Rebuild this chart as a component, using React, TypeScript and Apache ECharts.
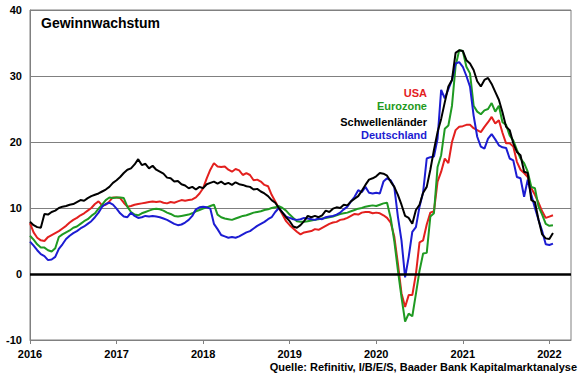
import React, { useEffect, useRef } from "react";
import * as echarts from "echarts";

// semi-monthly observations, starting January 2016
const startYear = 2016;
const stepsPerYear = 24;

const yearTicks = [2016, 2017, 2018, 2019, 2020, 2021, 2022];

const usa = [
  7.7, 6.3, 5.5, 5.1, 5.0, 5.6, 5.9, 6.2, 6.5, 6.9, 7.3, 7.8, 8.2, 8.5, 8.9, 9.2, 9.6, 10.0, 10.6, 11.0, 10.4, 10.5, 11.0, 11.6,
  11.6, 11.5, 10.8, 10.2, 10.3, 10.5, 10.6, 10.7, 10.8, 10.9, 11.0, 10.9, 11.0, 10.8, 10.7, 10.9, 10.8, 11.0, 11.2, 11.1, 11.2, 11.3, 11.6, 12.2,
  13.0, 14.5, 15.8, 16.8, 16.3, 16.2, 16.3, 15.8, 15.5, 15.9, 15.7, 15.0, 15.3, 15.0, 14.2, 14.3, 14.0, 13.5, 13.3, 12.0, 11.0, 10.0, 9.0, 8.0,
  7.4, 6.9, 6.4, 6.0, 6.3, 6.4, 6.5, 6.8, 6.7, 7.0, 7.3, 7.6, 7.8, 7.9, 8.2, 8.3, 8.5, 8.8, 9.1, 9.0, 9.3, 9.4, 9.4, 9.2,
  9.3, 9.2, 8.9, 8.5, 7.8, 5.7, 1.6, -2.9, -5.0, -3.2, -3.2, 0.0, 4.8, 5.1, 7.5, 9.3, 9.5, 14.0, 15.5, 17.5, 16.8, 20.0, 21.8, 22.3,
  22.4, 22.6, 22.6, 22.1, 21.8, 21.5, 22.3, 23.0, 23.8, 22.8, 23.3, 21.4, 19.8, 19.8, 19.3, 17.0, 15.8, 15.3, 14.7, 13.0, 12.0, 10.8, 9.5, 8.5,
  8.7, 8.9,
];

const eurozone = [
  5.8, 5.2, 4.5, 4.0, 4.0, 3.6, 3.4, 3.9, 5.6, 6.0, 6.3, 6.6, 7.0, 7.2, 7.6, 8.0, 8.3, 8.8, 9.2, 9.9, 10.5, 11.2, 11.6, 11.5,
  11.6, 11.6, 11.5, 10.2, 9.4, 9.0, 8.9, 9.2, 9.4, 9.6, 9.8, 9.9, 9.8, 9.6, 9.3, 9.1, 8.8, 8.7, 8.8, 8.9, 9.0, 9.2, 9.5, 9.7,
  9.9, 10.1, 10.3, 10.5, 9.0, 8.6, 8.4, 8.3, 8.2, 8.4, 8.6, 8.8, 8.9, 9.1, 9.3, 9.4, 9.5, 9.7, 9.8, 10.0, 10.1, 10.3, 10.0, 9.6,
  9.0, 8.5, 8.0, 7.9, 7.9, 8.0, 8.1, 8.2, 8.3, 8.4, 8.5, 8.6, 8.7, 8.9, 9.1, 9.2, 9.3, 9.5, 9.7, 9.9, 10.0, 10.2, 10.3, 10.4,
  10.3, 10.5, 10.7, 10.8, 8.5, 5.0, 0.6, -3.5, -7.2, -6.0, -6.4, -3.0, 0.5, 3.1, 3.2, 8.7, 9.2, 16.2, 18.0, 22.0, 22.5, 25.5, 31.5, 33.9,
  33.8, 31.4, 30.4, 25.5, 24.6, 24.2, 24.8, 25.0, 25.9, 24.6, 25.5, 23.0, 22.6, 21.0, 20.2, 18.8, 17.5, 16.8, 15.5, 13.2, 13.0, 10.2, 9.0, 7.6,
  7.3, 7.4,
];

const schwellenlaender = [
  7.9, 7.4, 7.1, 7.0, 9.1, 9.0, 9.4, 9.6, 10.0, 10.2, 10.3, 10.5, 10.6, 10.9, 11.2, 11.1, 11.5, 11.8, 12.0, 12.2, 12.5, 12.8, 13.2, 13.8,
  14.2, 14.7, 15.3, 15.8, 16.0, 16.6, 17.4, 16.5, 16.7, 16.0, 16.4, 15.8, 15.5, 15.2, 14.6, 14.5, 14.0, 14.1, 13.6, 13.4, 13.0, 13.2, 12.8, 13.2,
  13.0, 13.6, 13.8, 14.0, 13.7, 14.0, 13.6, 13.8, 13.5, 13.9, 13.6, 13.5, 13.3, 13.2, 12.8, 12.9, 12.5, 12.2, 11.8, 11.2, 10.8, 10.0, 9.3, 8.6,
  8.0, 7.2, 7.0, 7.4, 8.0, 8.8, 8.6, 8.8, 8.6, 8.9, 9.6, 9.4, 9.9, 10.1, 10.0, 10.5, 10.4, 11.0, 11.4, 11.8, 12.6, 13.5, 14.3, 14.5,
  14.8, 15.3, 15.2, 14.9, 14.0, 13.2, 12.0, 10.5, 8.8, 8.5, 7.6, 9.7, 10.5, 12.3, 13.2, 15.8, 18.8, 21.5, 23.5, 26.0, 28.4, 29.4, 33.5, 33.9,
  33.8, 32.4, 31.9, 30.9, 29.2, 28.4, 29.4, 29.7, 28.8, 27.6, 26.4, 24.5, 22.3, 21.8, 19.8, 18.5, 18.0, 15.5, 15.3, 11.2, 10.9, 8.2, 6.0, 5.4,
  5.3, 6.2,
];

const deutschland = [
  4.9, 4.3, 3.6, 3.0, 2.7, 2.1, 2.2, 2.6, 3.8, 4.5, 5.3, 5.8, 6.2, 6.5, 6.9, 7.2, 7.6, 8.0, 8.6, 9.3, 10.2, 10.6, 10.8, 10.5,
  9.9, 9.2, 8.7, 8.6, 9.3, 8.8, 8.5, 8.6, 8.8, 8.7, 8.8, 8.7, 8.6, 8.4, 8.2, 7.9, 7.6, 7.4, 7.5, 7.8, 8.2, 8.8, 9.8, 10.1,
  10.2, 10.1, 9.9, 7.6, 6.8, 5.9, 5.7, 5.5, 5.6, 5.5, 5.7, 6.0, 6.3, 6.5, 6.9, 7.3, 7.6, 7.9, 8.3, 8.6, 9.4, 10.0, 9.3, 8.7,
  8.5, 8.3, 8.2, 8.3, 8.5, 8.4, 8.3, 8.2, 8.4, 8.3, 8.6, 8.7, 8.8, 9.0, 9.3, 9.8, 10.2, 11.0, 11.7, 12.7, 12.4, 13.2, 12.3, 12.2,
  12.3, 12.2, 14.0, 14.5, 14.2, 13.2, 8.7, 5.1, -0.5, 2.6, 6.4, 7.1, 10.2, 12.4, 17.5, 17.7, 17.8, 20.5, 27.9, 26.6, 28.0, 29.4, 31.9, 32.1,
  31.4, 30.0, 28.4, 24.0, 20.8, 19.3, 19.0, 20.5, 21.2, 20.4, 19.5, 19.2, 19.1, 17.5, 17.2, 14.7, 14.5, 11.7, 14.3, 12.0, 10.0, 8.2, 6.5, 4.5,
  4.4, 4.6,
];

const seriesNames = ["USA", "Eurozone", "Schwellenländer", "Deutschland"];
const seriesColors = ["#e3201e", "#1f9a22", "#000000", "#1c1cd2"];

const titleText = "Gewinnwachstum";
const sourceText = "Quelle: Refinitiv, I/B/E/S, Baader Bank Kapitalmarktanalyse";

const FONT = "'Liberation Sans', Arial, sans-serif";

function toPairs(values: number[]) {
  return values.map((v, i) => [startYear + i / stepsPerYear, v]);
}

export default function App() {
  const ref = useRef<HTMLDivElement>(null);

  useEffect(() => {
    if (!ref.current) return;
    const chart = echarts.init(ref.current, null, { renderer: "svg" });

    const lineSeries = (name: string, values: number[], color: string, extra: any = {}) => ({
      name,
      type: "line",
      data: toPairs(values),
      showSymbol: false,
      symbol: "none",
      lineStyle: { color, width: 2 },
      itemStyle: { color },
      ...extra,
    });

    const legendYs = [93, 106, 122, 135];

    chart.setOption({
      animation: false,
      grid: {
        left: 30,
        top: 10,
        right: 9,
        bottom: 35,
        show: true,
        borderColor: "#808080",
        borderWidth: 1,
        backgroundColor: "transparent",
      },
      xAxis: {
        type: "value",
        min: 2016,
        max: 2022.25,
        interval: 1,
        axisLine: { show: true, onZero: false, lineStyle: { color: "#808080", width: 1 } },
        axisTick: { show: true, length: 4, customValues: yearTicks, lineStyle: { color: "#808080" } },
        axisLabel: {
          customValues: yearTicks,
          formatter: (v: number) => String(Math.round(v)),
          color: "#000",
          fontFamily: FONT,
          fontWeight: "bold",
          fontSize: 11,
          margin: 8,
        },
        splitLine: { show: false },
      },
      yAxis: {
        type: "value",
        min: -10,
        max: 40,
        interval: 10,
        axisLine: { show: true, lineStyle: { color: "#808080", width: 1 } },
        axisTick: { show: false },
        axisLabel: {
          color: "#000",
          fontFamily: FONT,
          fontWeight: "bold",
          fontSize: 11,
          margin: 8,
        },
        splitLine: { show: true, lineStyle: { color: "#808080", width: 1 } },
      },
      series: [
        lineSeries(seriesNames[0], usa, seriesColors[0], {
          markLine: {
            silent: true,
            symbol: "none",
            label: { show: false },
            lineStyle: { color: "#000", width: 2.5, type: "solid" },
            data: [{ yAxis: 0 }],
          },
        }),
        lineSeries(seriesNames[1], eurozone, seriesColors[1]),
        lineSeries(seriesNames[3], deutschland, seriesColors[3]),
        lineSeries(seriesNames[2], schwellenlaender, seriesColors[2]),
      ],
      graphic: [
        {
          type: "text",
          x: 41,
          y: 23,
          style: {
            text: titleText,
            font: `bold 14px ${FONT}`,
            fill: "#000",
            textVerticalAlign: "middle",
          },
        },
        ...seriesNames.map((n, i) => ({
          type: "text",
          x: 427,
          y: legendYs[i],
          style: {
            text: n,
            font: `bold 11px ${FONT}`,
            fill: seriesColors[i],
            textAlign: "right",
            textVerticalAlign: "middle",
          },
        })),
        {
          type: "text",
          x: 577,
          y: 367,
          style: {
            text: sourceText,
            font: `bold 11px ${FONT}`,
            fill: "#000",
            textAlign: "right",
            textVerticalAlign: "middle",
          },
        },
      ],
    });

    return () => chart.dispose();
  }, []);

  return (
    <div
      ref={ref}
      style={{ position: "absolute", left: 0, top: 0, width: 580, height: 375 }}
    />
  );
}
